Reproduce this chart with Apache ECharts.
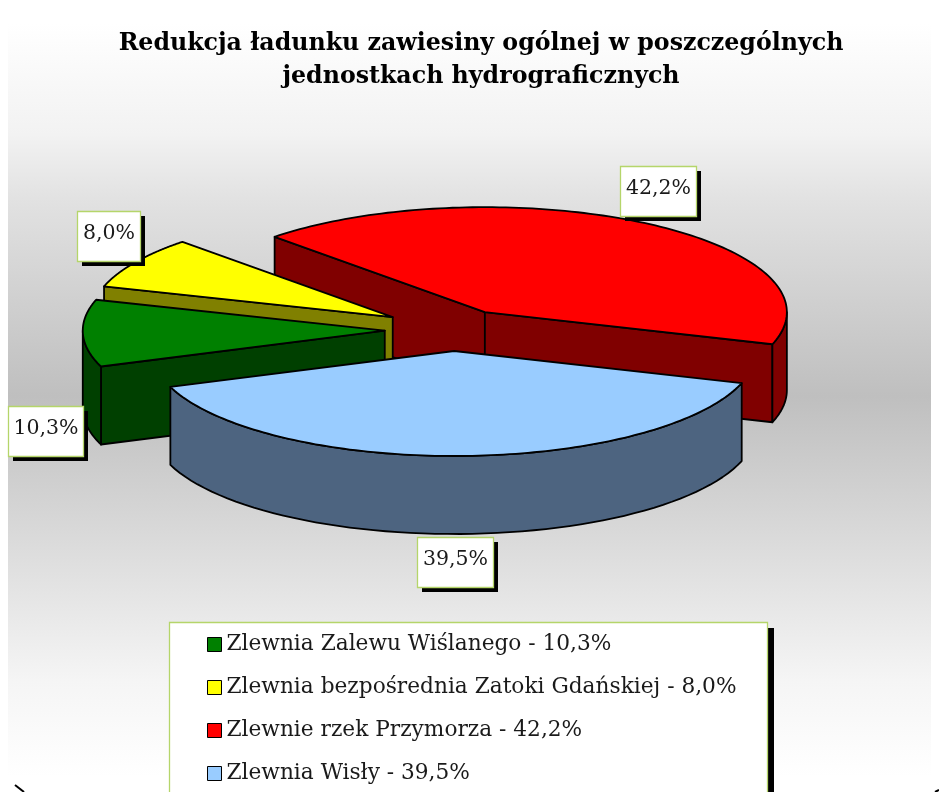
<!DOCTYPE html>
<html>
<head>
<meta charset="utf-8">
<title>Redukcja ładunku zawiesiny ogólnej</title>
<style>
  html, body { margin: 0; padding: 0; background: #fff; overflow: hidden; }
  #main { width: 939px; height: 792px; }
</style>
<script src="https://cdn.jsdelivr.net/npm/echarts@6/dist/echarts.min.js"></script>
</head>
<body>
<div id="main"></div>
<script>
// dane
var categories = ['Zlewnia Zalewu Wiślanego', 'Zlewnia bezpośrednia Zatoki Gdańskiej', 'Zlewnie rzek Przymorza', 'Zlewnia Wisły'];
var values = [10.3, 8.0, 42.2, 39.5];

// kolory
var topColors = ['#008000', '#ffff00', '#ff0000', '#99ccff'];
var sideColors = ['#004000', '#808000', '#800000', '#4d6480'];

// geometria "3D"
var startAngle = 250;            // stopnie, zgodnie z zegarem od góry
var pieCenter = [453, 330];
var rx = 302, ry = 105, depth = 78;
var explode = [0.226, 0.234, 0.2, 0.2];
var drawOrder = [2, 1, 0, 3];    // od tyłu do przodu
var labelBoxes = [[8, 406, 75, 50], [77, 211, 63, 50], [620, 166, 76, 50], [417, 537, 76, 50]];

var serif = '"DejaVu Serif"';
var total = values.reduce(function (a, b) { return a + b; }, 0);

function pct(v) {
  return v.toFixed(1).replace('.', ',') + '%';
}
function seriesName(i) {
  return categories[i] + ' - ' + pct(values[i]);
}
function sliceAngles(i) {
  var before = 0;
  for (var k = 0; k < i; k++) before += values[k];
  var a1 = startAngle + before / total * 360;
  return [a1, a1 + values[i] / total * 360];
}
function rim(apexDeg, cx, cy, dy) {
  var r = apexDeg * Math.PI / 180;
  return [cx + rx * Math.sin(r), cy - ry * Math.cos(r) + (dy || 0)];
}

function renderSlice(i) {
  return function (params, api) {
    var ang = sliceAngles(i);
    var a1 = ang[0], a2 = ang[1];
    var mid = (a1 + a2) / 2 * Math.PI / 180;
    var cx = pieCenter[0] + explode[i] * rx * Math.sin(mid);
    var cy = pieCenter[1] - explode[i] * ry * Math.cos(mid);
    var children = [];
    var side = { fill: sideColors[i], stroke: '#000', lineWidth: 1.8, lineJoin: 'round' };
    var apex = [cx, cy], apexLow = [cx, cy + depth];

    // sciany przekroju, tylko te widoczne
    if (Math.sin(a1 * Math.PI / 180) < 0) {
      children.push({ type: 'polygon', shape: { points: [apex, rim(a1, cx, cy), rim(a1, cx, cy, depth), apexLow] }, style: side });
    }
    if (Math.sin(a2 * Math.PI / 180) > 0) {
      children.push({ type: 'polygon', shape: { points: [apex, rim(a2, cx, cy), rim(a2, cx, cy, depth), apexLow] }, style: side });
    }

    // zewnetrzna sciana - tylko przednia polowa elipsy (90..270)
    [[90, 270], [450, 630]].forEach(function (front) {
      var from = Math.max(a1, front[0]), to = Math.min(a2, front[1]);
      if (to <= from) return;
      var upper = [], lower = [];
      for (var s = 0; s <= 60; s++) {
        var d = from + (to - from) * s / 60;
        upper.push(rim(d, cx, cy));
        lower.unshift(rim(d, cx, cy, depth));
      }
      children.push({ type: 'polygon', shape: { points: upper.concat(lower) }, style: side });
    });

    // gorna powierzchnia
    var pts = [apex];
    for (var s = 0; s <= 120; s++) {
      pts.push(rim(a1 + (a2 - a1) * s / 120, cx, cy));
    }
    children.push({
      type: 'polygon',
      shape: { points: pts },
      style: { fill: topColors[i], stroke: '#000', lineWidth: 1.8, lineJoin: 'round' }
    });
    return { type: 'group', children: children };
  };
}

function renderLabel(params, api) {
  var i = params.dataIndex;
  var b = labelBoxes[i];
  return {
    type: 'group',
    children: [
      { type: 'rect', shape: { x: b[0] + 5, y: b[1] + 5, width: b[2], height: b[3] }, style: { fill: '#000' } },
      { type: 'rect', shape: { x: b[0] + 0.5, y: b[1] + 0.5, width: b[2], height: b[3] }, style: { fill: '#fff', stroke: '#b5d56a', lineWidth: 1.3 } },
      {
        type: 'text',
        style: {
          x: b[0] + b[2] / 2 + 0.5, y: b[1] + 23,
          text: pct(api.value(0)),
          align: 'center', verticalAlign: 'middle',
          fill: '#1a1a1a', font: '20.5px ' + serif
        }
      }
    ]
  };
}

var series = drawOrder.map(function (i) {
  return {
    type: 'custom',
    name: seriesName(i),
    coordinateSystem: 'none',
    silent: true,
    itemStyle: { color: topColors[i] },
    data: [[values[i]]],
    renderItem: renderSlice(i)
  };
});
series.push({
  type: 'custom',
  name: 'etykiety',
  coordinateSystem: 'none',
  silent: true,
  data: values.map(function (v) { return [v]; }),
  renderItem: renderLabel
});

var myChart = echarts.init(document.getElementById('main'), null, { renderer: 'canvas' });
myChart.setOption({
  animation: false,
  backgroundColor: '#fff',
  title: {
    text: 'Redukcja ładunku zawiesiny ogólnej w poszczególnych\njednostkach hydrograficznych',
    left: 481,
    top: 27,
    padding: 0,
    textAlign: 'center',
    textStyle: { fontFamily: serif, fontWeight: 'bold', fontSize: 23.7, lineHeight: 33, color: '#000' }
  },
  legend: {
    data: categories.map(function (c, i) { return seriesName(i); }),
    orient: 'vertical',
    left: 207,
    top: 633,
    padding: 0,
    itemWidth: 14,
    itemHeight: 14,
    itemGap: 20,
    icon: 'rect',
    selectedMode: false,
    itemStyle: { borderColor: '#000', borderWidth: 1 },
    textStyle: { fontFamily: serif, fontSize: 21.7, lineHeight: 23, color: '#1a1a1a' }
  },
  graphic: [
    {
      type: 'rect', z: -10, silent: true,
      shape: { x: 8, y: 0, width: 923, height: 792 },
      style: {
        fill: new echarts.graphic.LinearGradient(0, 0, 0, 1, [
          { offset: 0.03, color: '#ffffff' },
          { offset: 0.17, color: '#f2f2f2' },
          { offset: 0.25, color: '#e2e2e2' },
          { offset: 0.5, color: '#bfbfbf' },
          { offset: 0.86, color: '#f5f5f5' },
          { offset: 0.98, color: '#ffffff' }
        ])
      }
    },
    // ramka legendy z cieniem
    { type: 'rect', z: 3, silent: true, shape: { x: 174, y: 628, width: 600, height: 170 }, style: { fill: '#000' } },
    { type: 'rect', z: 3, silent: true, shape: { x: 169.5, y: 622.5, width: 598, height: 180 }, style: { fill: '#fff', stroke: '#b5d56a', lineWidth: 1.3 } },
    { type: 'line', z: 5, silent: true, shape: { x1: 15, y1: 785, x2: 24, y2: 792 }, style: { stroke: '#000', lineWidth: 2 } },
    { type: 'line', z: 5, silent: true, shape: { x1: 935, y1: 792, x2: 939, y2: 790 }, style: { stroke: '#000', lineWidth: 2 } }
  ],
  series: series
});
</script>
</body>
</html>
